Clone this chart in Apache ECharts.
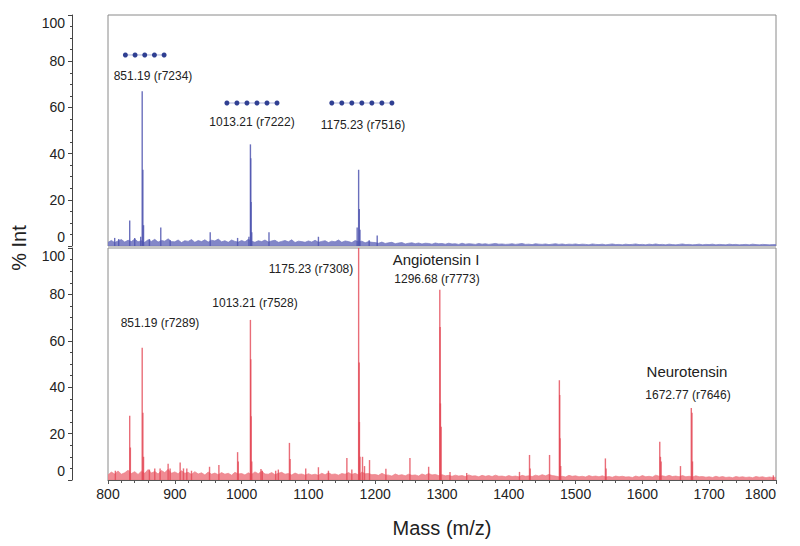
<!DOCTYPE html>
<html><head><meta charset="utf-8">
<script src="https://cdn.jsdelivr.net/npm/echarts@6/dist/echarts.min.js"></script>
<style>html,body{margin:0;padding:0;background:#fff}#c{width:800px;height:546px}</style>
</head><body><div id="c"></div>
<script>
// ---- data (m/z, % intensity) ----
const mzMin = 800, mzMax = 1800, mzStep = 100;
const noiseStart = 800, noiseStep = 5;
// baseline noise, one value per 5 m/z, 800..1800
const topNoise = [
  1.6,2.4,1.5,2.2,2.8,1.7,2.5,1.9,3.0,1.8,2.3,1.6,2.7,2.0,2.9,1.7,2.4,2.1,3.1,1.9,
  1.8,2.6,1.5,2.3,2.0,2.8,1.6,2.4,1.9,2.7,1.7,2.5,2.2,3.0,1.8,2.3,1.6,2.6,2.0,1.7,
  2.4,1.8,2.9,2.1,1.6,2.3,1.9,2.6,1.7,2.2,2.5,1.6,2.0,2.4,1.8,2.7,1.5,2.1,1.9,1.6,
  2.2,1.7,2.5,1.6,2.0,2.3,1.5,2.1,1.8,2.6,1.6,2.2,1.9,1.5,2.4,1.8,2.1,1.4,1.9,1.6,
  1.5,1.2,1.7,1.1,1.4,1.6,1.0,1.3,1.5,0.9,1.2,1.4,1.0,1.3,0.9,1.2,1.1,0.8,1.3,1.0,
  1.1,0.8,1.2,0.9,1.0,0.7,1.2,0.8,1.0,0.9,0.7,1.1,0.8,1.0,0.7,0.9,1.1,0.8,0.9,0.7,
  0.8,1.0,0.7,0.9,1.1,0.7,0.8,0.6,1.0,0.8,0.7,0.9,0.6,0.8,1.0,0.7,0.9,0.6,0.8,0.7,
  0.9,0.6,0.8,0.7,0.5,0.9,0.7,0.6,0.8,0.5,0.7,0.9,0.6,0.7,0.5,0.8,0.6,0.7,0.9,0.6,
  0.7,0.5,0.8,0.6,0.9,0.6,0.7,0.5,0.8,0.6,0.5,0.7,0.9,0.6,0.7,0.5,0.6,0.8,0.5,0.7,
  0.6,0.8,0.5,0.7,0.6,0.5,0.8,0.6,0.7,0.5,0.6,0.7,0.5,0.8,0.6,0.5,0.7,0.6,0.5,0.6,
  0.6
];
const bottomNoise = [
  2.2,3.4,2.6,3.9,2.5,3.1,4.2,2.8,3.6,2.4,3.8,2.9,4.5,3.0,3.7,2.6,4.1,3.2,4.6,2.9,
  3.5,2.7,4.0,2.9,3.3,2.4,3.6,2.6,3.1,2.2,3.4,2.5,3.0,2.3,3.2,2.5,2.9,2.1,3.3,2.6,
  2.8,2.2,3.1,2.4,3.5,2.7,3.8,2.6,2.5,3.2,2.3,2.9,3.3,2.5,2.8,2.2,3.0,2.4,2.6,2.1,
  2.7,2.2,2.5,2.0,2.9,2.3,3.1,2.4,2.6,2.1,2.8,2.5,3.2,2.4,2.9,2.2,3.4,2.7,2.8,2.3,
  2.4,2.0,2.9,2.2,2.1,1.7,2.6,2.0,2.3,1.8,2.5,2.0,2.2,1.7,2.6,2.1,2.8,2.2,2.4,1.9,
  2.3,1.8,2.0,1.6,2.1,1.7,1.9,1.5,2.2,1.7,1.8,1.4,2.0,1.6,1.9,1.5,2.1,1.6,1.7,1.4,
  1.9,1.5,1.7,1.4,2.0,1.6,1.8,1.5,2.1,1.7,2.3,1.8,2.4,1.9,1.7,1.4,1.6,1.3,2.0,1.6,
  1.8,1.4,1.6,1.3,1.9,1.5,1.7,1.4,1.8,1.3,1.5,1.2,1.7,1.4,1.6,1.3,1.4,1.1,1.7,1.3,
  1.9,1.4,1.6,1.3,2.1,1.6,1.8,1.5,2.0,1.5,1.7,1.4,1.9,1.4,1.6,1.3,1.8,1.4,1.5,1.2,
  1.4,1.1,1.6,1.2,1.5,1.1,1.3,1.0,1.5,1.2,1.4,1.1,1.3,1.0,1.5,1.2,1.4,1.0,1.3,1.1,
  1.2
];
const topPeaks = [
  [810,3.5],[816,3],[832.5,11],[840,3.5],[849,4],[851.2,67],[852.2,33],[853.2,9],
  [862,3],[879,8],[893,2.5],[953,6],[994,3.5],[1011,4],[1013.2,44],[1013.7,38],
  [1014.2,19],[1015.2,6],[1041,6],[1115,4],[1173,8],[1175.2,33],[1176.2,16],
  [1177.2,7],[1191,2.5],[1203,4.5]
];
const bottomPeaks = [
  [811,4],[832.5,27.7],[833.5,14],[851.2,57],[852.2,29],[853.2,10],[862,4.5],[870,5],
  [878,5],[890,7],[893,5],[908,7.5],[913,5],[918,5],[925,4],[952,5.7],[966,6.5],
  [994,12],[995,8],[1013.2,69],[1013.7,52],[1014.2,27.5],[1015.2,8],[1029,4.7],
  [1031,4],[1051,4],[1055,4.5],[1071.6,16],[1072.6,9],[1096,5],[1115,5.5],[1130,4],
  [1157.6,9.5],[1165,4.5],[1175.2,100],[1176,50.6],[1176.4,25],[1177.2,10],[1181,10],
  [1184,6],[1191.5,8.6],[1216,4.8],[1252,9.5],[1280,5.7],[1296.7,82],[1297.2,66],
  [1297.7,33],[1298.7,23],[1312,3.5],[1337,3],[1416,3.5],[1431,10.8],[1432,5],
  [1461,10.8],[1475.7,43],[1476.2,36.6],[1476.7,18],[1477.7,6],[1544.6,9.3],
  [1545.6,5],[1626,16.5],[1627,10],[1628,8],[1657,6],[1673.2,31],[1674.2,29],
  [1675,8],[1796,2]
];
// glycan residue dot rows (m/z positions, % level)
const dotsA = [826,840.5,855,869.5,884], dotsALevel = 82.7;
const dotsB = [978,993,1008,1023,1038,1053], dotsBLevel = 61.9;
const dotsC = [1135,1150,1165,1180,1195,1210,1225], dotsCLevel = 61.9;
const topLabels = ['851.19 (r7234)','1013.21 (r7222)','1175.23 (r7516)'];
const bottomLabels = ['1175.23 (r7308)','1013.21 (r7528)','851.19 (r7289)','1296.68 (r7773)','1672.77 (r7646)'];
const peptideNames = ['Angiotensin I','Neurotensin'];

// ---- build ----
const FF = '"Liberation Sans", Arial, sans-serif';
const noiseData = arr => arr.map((v,i)=>[noiseStart + i*noiseStep, v]);
function mkY(i){
  return {gridIndex:i,type:'value',min:0,max:100,interval:20,offset:36,
    axisLine:{show:true,lineStyle:{color:'#444',width:1}},
    axisTick:{show:true,length:4,lineStyle:{color:'#444'}},
    minorTick:{show:true,splitNumber:4,length:2,lineStyle:{color:'#444'}},
    splitLine:{show:false},
    axisLabel:{margin:7,color:'#222',fontSize:14,fontFamily:FF,
      formatter:v=> v===100?'{d|100}':(v===0?'{u|0}':'{n|'+v+'}'),
      rich:{d:{padding:[16,0,0,0],fontSize:14,fontFamily:FF,color:'#222'},
            u:{padding:[0,0,19,0],fontSize:14,fontFamily:FF,color:'#222'},
            n:{fontSize:14,fontFamily:FF,color:'#222'}}}
  };
}
function dotRow(xs, lvl){
  return {type:'line',xAxisIndex:0,yAxisIndex:0,data:xs.map(x=>[x,lvl]),symbol:'circle',symbolSize:5,
    itemStyle:{color:'#2f3f92'},lineStyle:{color:'#8a93c8',width:0.7},z:5,silent:true};
}
function txt(x,y,t,size){
  return {type:'text',x:x,y:y,style:{text:t,align:'center',verticalAlign:'middle',textAlign:'center',textVerticalAlign:'middle',fontSize:size,fontFamily:FF,fill:'#222'},z:10};
}
const BLUE='#7479c2', BLUE_P='rgba(80,86,176,0.85)', RED='#ee8088', RED_P='rgba(228,72,86,0.8)';
const option = {
  animation:false,
  backgroundColor:'#fff',
  grid:[{left:108,right:24,top:15,height:231,show:true,borderColor:'#8a8a8a',borderWidth:1},
        {left:108,right:24,top:248,height:232,show:true,borderColor:'#8a8a8a',borderWidth:1}],
  xAxis:[
    {gridIndex:0,type:'value',min:mzMin,max:mzMax,interval:mzStep,show:false},
    {gridIndex:1,type:'value',min:mzMin,max:mzMax,interval:mzStep,
     axisLine:{lineStyle:{color:'#555'}},axisTick:{length:4,lineStyle:{color:'#555'}},
     minorTick:{show:true,splitNumber:5,length:3,lineStyle:{color:'#555'}},splitLine:{show:false},
     axisLabel:{color:'#222',fontSize:14,fontFamily:FF,margin:7,alignMaxLabel:'right',formatter:v=>String(v)},
     name:'Mass (m/z)',nameLocation:'middle',nameGap:38,nameTextStyle:{fontSize:20,color:'#222',fontFamily:FF}}
  ],
  yAxis:[mkY(0),mkY(1)],
  series:[
    {type:'line',xAxisIndex:0,yAxisIndex:0,data:noiseData(topNoise),symbol:'none',
     lineStyle:{color:BLUE,width:0.7},areaStyle:{color:BLUE,opacity:0.9},z:2,silent:true},
    {type:'bar',xAxisIndex:0,yAxisIndex:0,data:topPeaks,barWidth:1.4,itemStyle:{color:BLUE_P},z:3,silent:true},
    dotRow(dotsA,dotsALevel),dotRow(dotsB,dotsBLevel),dotRow(dotsC,dotsCLevel),
    {type:'line',xAxisIndex:1,yAxisIndex:1,data:noiseData(bottomNoise),symbol:'none',
     lineStyle:{color:RED,width:0.7},areaStyle:{color:RED,opacity:0.9},z:2,silent:true},
    {type:'bar',xAxisIndex:1,yAxisIndex:1,data:bottomPeaks,barWidth:1.4,itemStyle:{color:RED_P},z:3,silent:true}
  ],
  graphic:[
    txt(153,76,topLabels[0],12), txt(252,122,topLabels[1],12), txt(363,125,topLabels[2],12),
    txt(311,269,bottomLabels[0],12), txt(255,303,bottomLabels[1],12), txt(160,323,bottomLabels[2],12),
    txt(436,259,peptideNames[0],15), txt(437,279,bottomLabels[3],12),
    txt(687,371,peptideNames[1],15), txt(688,395,bottomLabels[4],12),
    {type:'text',x:19,y:248,rotation:Math.PI/2,style:{text:'% Int',align:'center',verticalAlign:'middle',textAlign:'center',textVerticalAlign:'middle',fontSize:20,fontFamily:FF,fill:'#222'}}
  ]
};
const chart = echarts.init(document.getElementById('c'),null,{renderer:'svg'});
chart.setOption(option);
</script></body></html>
